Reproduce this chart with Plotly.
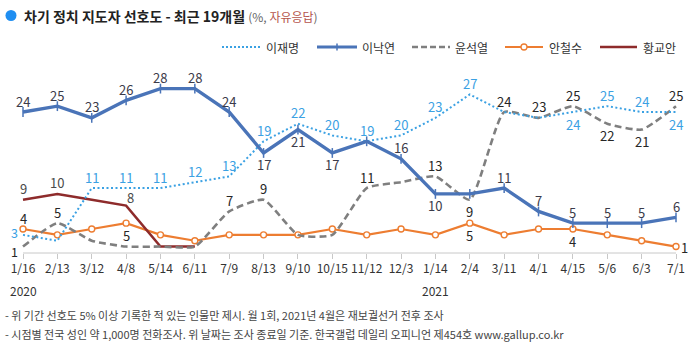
import plotly.graph_objects as go

# ---------------- data ----------------
dates = ["1/16", "2/13", "3/12", "4/8", "5/14", "6/11", "7/9", "8/13", "9/10", "10/15",
         "11/12", "12/3", "1/14", "2/4", "3/11", "4/1", "4/15", "5/6", "6/3", "7/1"]
years = [("2020", 0), ("2021", 12)]

lee_jm = [3, 2, 11, 11, 11, 12, 13, 19, 22, 20, 19, 20, 23, 27, 24, 23, 24, 25, 24, 24]
lee_ny = [24, 25, 23, 26, 28, 28, 24, 17, 21, 17, 19, 16, 10, 10, 11, 7, 5, 5, 5, 6]
yoon   = [1, 5, 2, 1, 1, 1, 7, 9, 3, 3, 11, 12, 13, 9, 24, 23, 25, 22, 21, 25]
ahn    = [4, 3, 4, 5, 3, 2, 3, 3, 3, 4, 3, 4, 3, 5, 3, 4, 4, 3, 2, 1]
hwang  = [9, 10, 9, 8, 1, 1]

# label placement per point: a=above, b=below, l=left, lb=left-low, r=right,
# ar=above-right, ''=none
lee_jm_pos = ["l", "", "a", "a", "a", "a", "a", "a", "a", "a", "a", "a", "a", "a", "", "", "b", "a", "a", "b"]
lee_ny_pos = ["a", "a", "a", "a", "a", "a", "a", "b", "b", "b", "", "a", "b", "", "a", "a", "a", "a", "a", "a"]
yoon_pos   = ["lb", "a", "", "", "", "", "a", "a", "", "", "a", "", "a", "b", "a", "a", "a", "b", "b", "a"]
ahn_pos    = ["a", "", "", "b", "", "", "", "", "", "", "", "", "", "b", "", "", "b", "", "", "r"]
hwang_pos  = ["a", "a", "", "ar", "", ""]

names = ["이재명", "이낙연", "윤석열", "안철수", "황교안"]

C_JM = "#3ba1e3"
C_NY = "#4a74b8"
C_YOON = "#7f7f7f"
C_AHN = "#ed7d31"
C_HWANG = "#8e2b2b"

FONT = "Noto Sans CJK KR"

W, H = 700, 351
T, B = 60, 98
PH = H - T - B


def px(x):
    return x / W


def py(y):
    return (H - B - y) / PH


x = list(range(len(dates)))

fig = go.Figure()

fig.add_trace(go.Scatter(x=x, y=ahn, mode="lines+markers", name=names[3],
                         line=dict(color=C_AHN, width=2.2),
                         marker=dict(symbol="circle", size=6, color="white",
                                     line=dict(color=C_AHN, width=1.4)),
                         hoverinfo="skip"))
fig.add_trace(go.Scatter(x=x[:len(hwang)], y=hwang, mode="lines", name=names[4],
                         line=dict(color=C_HWANG, width=2.5), hoverinfo="skip"))
fig.add_trace(go.Scatter(x=x, y=yoon, mode="lines", name=names[2],
                         line=dict(color=C_YOON, width=2.6, dash="7px,4px",
                                   shape="spline", smoothing=0.5),
                         hoverinfo="skip"))
fig.add_trace(go.Scatter(x=x, y=lee_jm, mode="lines", name=names[0],
                         line=dict(color=C_JM, width=2, dash="2px,2.5px"),
                         hoverinfo="skip"))
fig.add_trace(go.Scatter(x=x, y=lee_ny, mode="lines+markers", name=names[1],
                         line=dict(color=C_NY, width=3.4),
                         marker=dict(symbol="line-ns", size=7,
                                     line=dict(color=C_NY, width=1.5)),
                         hoverinfo="skip"))

annotations = []


def add_labels(vals, poss, color):
    for i, (v, p) in enumerate(zip(vals, poss)):
        if not p:
            continue
        a = dict(x=i, y=v, xref="x", yref="y", text=str(v), showarrow=False,
                 font=dict(family=FONT, size=13, color=color))
        if p == "a":
            a.update(yanchor="middle", xanchor="center", yshift=11)
        elif p == "ar":
            a.update(yanchor="middle", xanchor="center", xshift=4, yshift=8)
        elif p == "b":
            a.update(yanchor="middle", xanchor="center", yshift=-12)
        elif p == "l":
            a.update(yanchor="middle", xanchor="right", xshift=-4, yshift=2,
                     borderpad=0, font=dict(family=FONT, size=12.5, color=color))
        elif p == "lb":
            a.update(yanchor="middle", xanchor="right", xshift=-4, yshift=-4.5,
                     borderpad=0, font=dict(family=FONT, size=12.5, color=color))
        elif p == "r":
            a.update(yanchor="middle", xanchor="left", xshift=3, yshift=-1)
        annotations.append(a)


add_labels(lee_jm, lee_jm_pos, C_JM)
add_labels(lee_ny, lee_ny_pos, "#3b3b4a")
add_labels(yoon, yoon_pos, "#262626")
add_labels(ahn, ahn_pos, "#262626")
add_labels(hwang, hwang_pos, "#4a4a4a")

# year labels
for yr, idx in years:
    annotations.append(dict(x=idx, y=0, xref="x", yref="paper", text=yr, showarrow=False,
                            yanchor="middle", xanchor="center", yshift=-37,
                            font=dict(family=FONT, size=12, color="#333")))

# title
annotations.append(dict(x=px(22), y=py(16), xref="paper", yref="paper", xanchor="left",
                        yanchor="middle", showarrow=False,
                        text="<b>차기 정치 지도자 선호도 - 최근 19개월</b> "
                             "<span style='font-size:12px;color:#666'>(%, </span>"
                             "<span style='font-size:12px;color:#b5544c'>자유응답</span>"
                             "<span style='font-size:12px;color:#666'>)</span>",
                        font=dict(family=FONT, size=14, color="#222")))

# legend (manual)
legend_items = [
    (names[0], 222, 260, 264, dict(color=C_JM, width=2, dash="2px,2px"), None),
    (names[1], 317, 357, 360, dict(color=C_NY, width=3.2), "tick"),
    (names[2], 412, 450, 453, dict(color=C_YOON, width=2.5, dash="6px,3px"), None),
    (names[3], 505, 543, 547, dict(color=C_AHN, width=2.2), "circle"),
    (names[4], 600, 637, 641, dict(color=C_HWANG, width=2.5), None),
]
shapes = []
LY = 47
for nm, x0, x1, tx, ln, mk in legend_items:
    shapes.append(dict(type="line", xref="paper", yref="paper", x0=px(x0), x1=px(x1),
                       y0=py(LY), y1=py(LY), line=ln))
    if mk == "tick":
        xm = (x0 + x1) / 2
        shapes.append(dict(type="line", xref="paper", yref="paper", x0=px(xm), x1=px(xm),
                           y0=py(LY - 3.5), y1=py(LY + 3.5), line=dict(color=C_NY, width=1.5)))
    if mk == "circle":
        xm = (x0 + x1) / 2
        shapes.append(dict(type="circle", xref="paper", yref="paper",
                           x0=px(xm - 3), x1=px(xm + 3), y0=py(LY - 3), y1=py(LY + 3),
                           fillcolor="white", line=dict(color=C_AHN, width=1.3)))
    annotations.append(dict(x=px(tx), y=py(LY), xref="paper", yref="paper", text=nm,
                            xanchor="left", yanchor="middle", showarrow=False,
                            font=dict(family=FONT, size=12, color="#333")))

# title bullet
shapes.append(dict(type="circle", xref="paper", yref="paper", x0=px(5.5), x1=px(16.5),
                   y0=py(10), y1=py(21), fillcolor="#1f8ef1", line=dict(width=0)))

# x axis baseline
shapes.append(dict(type="line", xref="x", yref="paper", x0=0, x1=len(dates) - 1,
                   y0=0, y1=0, line=dict(color="#c8c8c8", width=1)))

# footer
footer = ["- 위 기간 선호도 5% 이상 기록한 적 있는 인물만 제시. 월 1회, 2021년 4월은 재보궐선거 전후 조사",
          "- 시점별 전국 성인 약 1,000명 전화조사. 위 날짜는 조사 종료일 기준. 한국갤럽 데일리 오피니언 제454호 www.gallup.co.kr"]
for k, line in enumerate(footer):
    annotations.append(dict(x=px(3), y=py(315 + 19 * k), xref="paper", yref="paper",
                            text=line, xanchor="left", yanchor="middle", showarrow=False,
                            font=dict(family=FONT, size=11, color="#444")))

span = 653 / 19
a0 = -23 / span
a1 = 19 + (W - 676) / span

fig.update_layout(
    width=W, height=H,
    margin=dict(l=0, r=0, t=T, b=B, pad=0),
    paper_bgcolor="white", plot_bgcolor="white",
    showlegend=False,
    annotations=annotations,
    shapes=shapes,
    xaxis=dict(range=[a0, a1], tickmode="array", tickvals=x, ticktext=dates,
               ticks="outside", ticklen=5, tickcolor="#c8c8c8", tickwidth=1,
               showgrid=False, zeroline=False, showline=False,
               tickfont=dict(family=FONT, size=12, color="#333"), fixedrange=True),
    yaxis=dict(range=[-0.1, PH / 5.85 - 0.1], showgrid=False, zeroline=False,
               showticklabels=False, showline=False, fixedrange=True),
)

fig.write_html("out.html", config={"displayModeBar": False})
